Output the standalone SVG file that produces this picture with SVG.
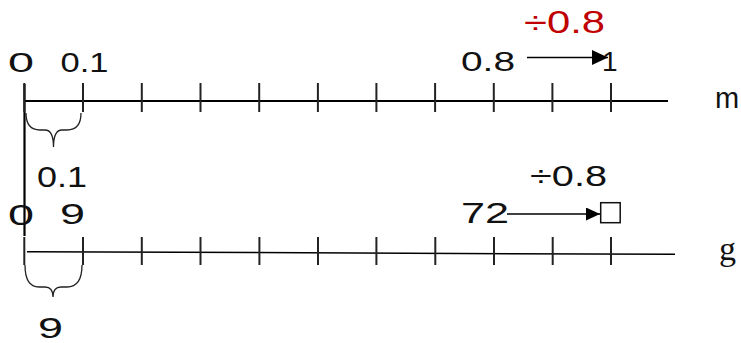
<svg xmlns="http://www.w3.org/2000/svg" width="741" height="343" viewBox="0 0 741 343">
<style>
.t{font-family:"Liberation Sans","DejaVu Sans",sans-serif;fill:#111;}
.ax{stroke:#000;fill:none;}
.tk{stroke:#222;stroke-width:2;}
.br{stroke:#222;stroke-width:1.3;fill:none;}
</style>
<defs>
<marker id="ah1" markerUnits="userSpaceOnUse" markerWidth="16" markerHeight="15" refX="16" refY="7.5" orient="auto"><path d="M0,0 L16,7.5 L0,15 z" fill="#000"/></marker>
<marker id="ah2" markerUnits="userSpaceOnUse" markerWidth="14" markerHeight="13" refX="14" refY="6.5" orient="auto"><path d="M0,0 L14,6.5 L0,13 z" fill="#000"/></marker>
</defs>
<rect width="741" height="343" fill="#fff"/>
<g id="line-m">
<line class="ax" x1="24.5" y1="101" x2="668" y2="101" stroke-width="2.2"/>
<line class="ax" x1="24.5" y1="84" x2="24.5" y2="236" stroke-width="2.2"/>
<g class="tk">
<line x1="24.3" y1="83" x2="24.3" y2="112"/><line x1="83" y1="83" x2="83" y2="112"/><line x1="141.8" y1="83" x2="141.8" y2="112"/><line x1="200.5" y1="83" x2="200.5" y2="112"/><line x1="259.2" y1="83" x2="259.2" y2="112"/><line x1="317.9" y1="83" x2="317.9" y2="112"/><line x1="376.4" y1="83" x2="376.4" y2="112"/><line x1="435.1" y1="83" x2="435.1" y2="112"/><line x1="493.8" y1="83" x2="493.8" y2="112"/><line x1="552.4" y1="83" x2="552.4" y2="112"/><line x1="611" y1="83" x2="611" y2="112"/>
</g>
<path class="br" d="M26,113 Q26,130 40,130 L45,130 Q53.5,130 53.5,147 Q53.5,130 62,130 L67,130 Q81,130 81,113"/>
<text class="t" x="8" y="72" font-size="28" textLength="26" lengthAdjust="spacingAndGlyphs">0</text>
<text class="t" x="60.5" y="72" font-size="28" textLength="48" lengthAdjust="spacingAndGlyphs">0.1</text>
<text class="t" x="461" y="71" font-size="28" textLength="54" lengthAdjust="spacingAndGlyphs">0.8</text>
<text class="t" x="602" y="71" font-size="28">1</text>
<text class="t" x="37" y="187" font-size="30" textLength="50" lengthAdjust="spacingAndGlyphs">0.1</text>
<text class="t" x="715" y="108" font-size="29">m</text>
</g>
<g id="line-g">
<line class="ax" x1="27" y1="251.7" x2="675" y2="254.3" stroke-width="1.5"/>
<g class="tk">
<line x1="24.3" y1="237" x2="24.3" y2="265"/><line x1="83" y1="237" x2="83" y2="265"/><line x1="141.8" y1="237" x2="141.8" y2="265"/><line x1="200.5" y1="237" x2="200.5" y2="265"/><line x1="259.4" y1="237" x2="259.4" y2="265"/><line x1="318" y1="237" x2="318" y2="265"/><line x1="376.4" y1="237" x2="376.4" y2="265"/><line x1="435.3" y1="237" x2="435.3" y2="265"/><line x1="494" y1="237" x2="494" y2="265"/><line x1="552.7" y1="237" x2="552.7" y2="265"/><line x1="611" y1="237" x2="611" y2="265"/>
</g>
<path class="br" d="M25,265 Q25,287 39,287 L45,287 Q53,287 53,297 Q53,287 61,287 L67,287 Q82,287 82,265"/>
<text class="t" x="8" y="225" font-size="30" textLength="26" lengthAdjust="spacingAndGlyphs">0</text>
<text class="t" x="60" y="224" font-size="30" textLength="25" lengthAdjust="spacingAndGlyphs">9</text>
<text class="t" x="461" y="223" font-size="30" textLength="48" lengthAdjust="spacingAndGlyphs">72</text>
<text class="t" x="38" y="338" font-size="30" textLength="25" lengthAdjust="spacingAndGlyphs">9</text>
<rect x="600.7" y="202.7" width="19.5" height="20" fill="#fff" stroke="#111" stroke-width="1.5"/>
<text x="719" y="260" font-family="'Liberation Serif',serif" font-size="34" fill="#111">g</text>
</g>
<g id="connectors">
<line x1="527" y1="57.5" x2="608" y2="57.5" stroke="#000" stroke-width="1.4" marker-end="url(#ah1)"/>
<line x1="507" y1="214" x2="600" y2="214" stroke="#000" stroke-width="1.4" marker-end="url(#ah2)"/>
<text class="t" x="524" y="33" font-size="32" textLength="81" lengthAdjust="spacingAndGlyphs" style="fill:#c00000">÷0.8</text>
<text class="t" x="530" y="186" font-size="29" textLength="77" lengthAdjust="spacingAndGlyphs">÷0.8</text>
</g>
</svg>
